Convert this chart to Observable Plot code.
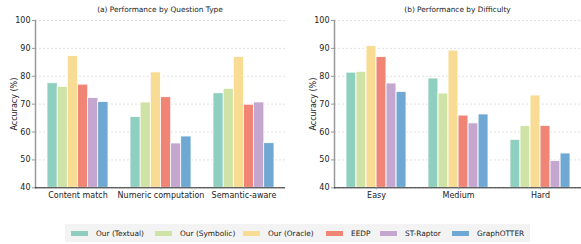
<!DOCTYPE html>
<html><head><meta charset="utf-8">
<script src="https://cdn.jsdelivr.net/npm/d3@7"></script>
<script src="https://cdn.jsdelivr.net/npm/@observablehq/plot@0.6"></script>
<style>
body{margin:0;background:#fff;font-family:"DejaVu Sans",sans-serif;color:#222;}
#wrap{position:relative;width:581px;height:244px;overflow:hidden;}
.panel{position:absolute;top:0;z-index:1;}
.title{position:absolute;top:5px;font-size:7.4px;text-align:center;white-space:nowrap;z-index:2;}
#legend{position:absolute;left:65px;top:224px;width:465px;height:18px;background:#f3f3f3;font-size:7.4px;z-index:2;}
.item{position:absolute;top:0;height:18px;display:flex;align-items:center;white-space:nowrap;}
.sw{width:17px;height:5px;margin-right:8px;flex:none;}
</style></head>
<body><div id="wrap">
<div class="title" style="left:35px;width:250px;">(a) Performance by Question Type</div>
<div class="title" style="left:334px;width:247px;">(b) Performance by Difficulty</div>
<div class="panel" id="p1" style="left:0px"></div>
<div class="panel" id="p2" style="left:290px"></div>
<div id="legend"></div>
</div>
<script>
const series = ["Our (Textual)", "Our (Symbolic)", "Our (Oracle)", "EEDP", "ST-Raptor", "GraphOTTER"];
const colors = ["#8ecfc0", "#d0e3a6", "#f9dc93", "#f08575", "#c5a6cf", "#6fa8d2"];

const typeCategories = ["Content match", "Numeric computation", "Semantic-aware"];
const typeValues = [
  [77.5, 65.4, 73.9],  // Our (Textual)
  [76.2, 70.6, 75.5],  // Our (Symbolic)
  [87.3, 81.4, 86.9],  // Our (Oracle)
  [77.0, 72.5, 69.8],  // EEDP
  [72.2, 55.9, 70.6],  // ST-Raptor
  [70.8, 58.4, 56.0]   // GraphOTTER
];

const diffCategories = ["Easy", "Medium", "Hard"];
const diffValues = [
  [81.3, 79.2, 57.2],
  [81.6, 73.8, 62.2],
  [90.8, 89.2, 73.1],
  [86.9, 65.9, 62.2],
  [77.4, 63.1, 49.6],
  [74.4, 66.3, 52.3]
];

const yTicks = [40, 50, 60, 70, 80, 90, 100];

function table(cats, vals) {
  const rows = [];
  series.forEach((s, i) => cats.forEach((c, j) => rows.push({category: c, series: s, si: i, value: vals[i][j]})));
  return rows;
}

function panel(cats, vals, width, ml, mr) {
  const height = 210, mt = 20, mb = 22.7;
  const pad = 0.27;
  const bw = (width - ml - mr) / cats.length * (1 - pad);
  const w = bw / series.length;
  const data = table(cats, vals);
  const marks = [
    Plot.gridY(yTicks, {stroke: "#ccc", strokeOpacity: 0.6, strokeDasharray: "2,2"}),
    ...series.map((s, i) => Plot.barY(data.filter(d => d.si === i), {
      x: "category", y1: 40, y2: "value", fill: colors[i],
      stroke: "white", strokeWidth: 0.8,
      insetLeft: i * w, insetRight: (series.length - 1 - i) * w
    })),
    Plot.frame({anchor: "left", stroke: "#999", strokeWidth: 1.5}),
    Plot.ruleY([40], {stroke: "#222", strokeWidth: 1}),
    Plot.axisY(yTicks, {tickSize: 3, stroke: "#999", fontSize: 8, tickPadding: 2,
      label: "Accuracy (%)", labelAnchor: "center", labelArrow: "none", labelOffset: 24}),
    Plot.axisX({tickSize: 2, stroke: "#999", fontSize: 8, tickPadding: 3, label: null})
  ];
  return Plot.plot({
    width, height, marginLeft: ml, marginRight: mr, marginTop: mt, marginBottom: mb,
    style: {fontFamily: "DejaVu Sans, sans-serif", color: "#222", background: "transparent"},
    x: {domain: cats, paddingInner: pad, paddingOuter: pad / 2},
    y: {domain: [40, 100]},
    marks
  });
}

document.getElementById("p1").appendChild(panel(typeCategories, typeValues, 290, 35, 5));
document.getElementById("p2").appendChild(panel(diffCategories, diffValues, 291, 44, 0));

const legend = document.getElementById("legend");
const legendX = [6, 90, 178, 261, 315, 387];
series.forEach((s, i) => {
  const it = document.createElement("div");
  it.className = "item";
  it.style.left = legendX[i] + "px";
  it.innerHTML = `<div class="sw" style="background:${colors[i]}"></div><span>${s}</span>`;
  legend.appendChild(it);
});
</script>
</body></html>
